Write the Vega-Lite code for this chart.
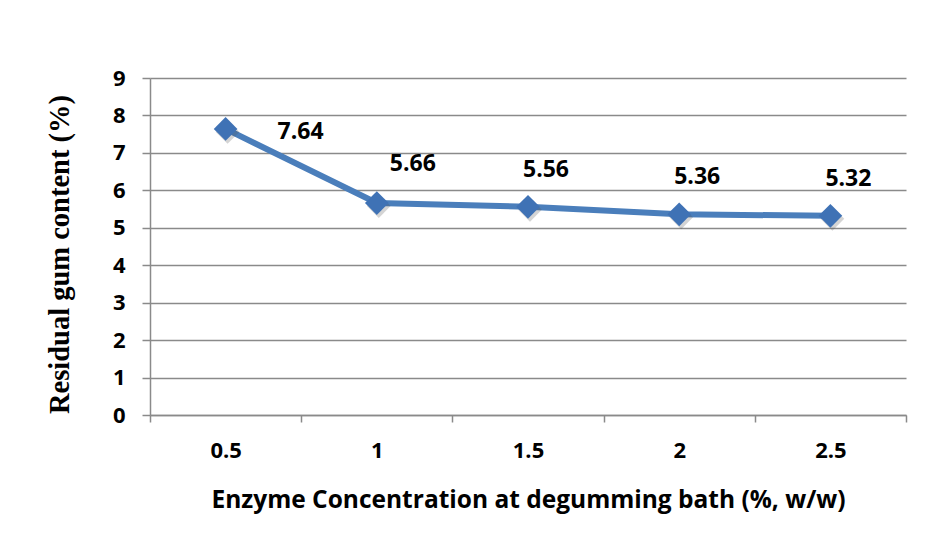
{
  "$schema": "https://vega.github.io/schema/vega-lite/v6.json",
  "width": 756,
  "height": 337,
  "autosize": {"type": "none"},
  "padding": {"left": 150, "top": 78, "right": 34, "bottom": 135},
  "background": "white",
  "config": {"view": {"stroke": null}, "font": "Open Sans"},
  "data": {"values": [
    {"c": "0.5", "r": 7.64},
    {"c": "1", "r": 5.66},
    {"c": "1.5", "r": 5.56},
    {"c": "2", "r": 5.36},
    {"c": "2.5", "r": 5.32}
  ]},
  "encoding": {
    "x": {
      "field": "c", "type": "ordinal", "sort": null,
      "scale": {"type": "band", "paddingInner": 0, "paddingOuter": 0},
      "axis": {
        "tickBand": "extent", "tickSize": 7, "tickColor": "#8a8a8a", "tickWidth": 1.5,
        "domainColor": "#8a8a8a", "domainWidth": 1.5,
        "labelAngle": 0, "labelPadding": 18, "labelFontSize": 22, "labelFontWeight": "bold", "labelColor": "black",
        "grid": false,
        "title": "Enzyme Concentration at degumming bath (%, w/w)",
        "titleFontSize": 24.5, "titleFontWeight": "bold", "titleColor": "black", "titlePadding": 27
      }
    },
    "y": {
      "field": "r", "type": "quantitative",
      "scale": {"domain": [0, 9], "nice": false},
      "axis": {
        "values": [0, 1, 2, 3, 4, 5, 6, 7, 8, 9],
        "grid": true, "gridColor": "#8a8a8a", "gridWidth": 1.5,
        "domainColor": "#8a8a8a", "domainWidth": 1.5,
        "tickSize": 8, "tickColor": "#8a8a8a", "tickWidth": 1.5,
        "labelPadding": 17, "labelFontSize": 22, "labelFontWeight": "bold", "labelColor": "black",
        "title": "Residual gum content (%)",
        "titleFont": "Liberation Serif", "titleFontSize": 28.5, "titleFontWeight": "bold", "titleColor": "black",
        "titlePadding": 38, "titleY": 176
      }
    }
  },
  "layer": [
    {"mark": {"type": "line", "color": "#4a7ebb", "strokeWidth": 6}},
    {"mark": {"type": "point", "shape": "diamond", "filled": true, "size": 560, "color": "#555555", "opacity": 0.25, "xOffset": 2, "yOffset": 3}},
    {"mark": {"type": "point", "shape": "diamond", "filled": true, "size": 560, "color": "#3f72b5", "opacity": 1}},
    {
      "transform": [{"filter": "datum.c == '0.5'"}],
      "mark": {"type": "text", "dx": 75, "dy": 3, "fontSize": 23, "fontWeight": "bold", "color": "black", "baseline": "middle"},
      "encoding": {"text": {"field": "r", "type": "quantitative", "format": ".2f"}}
    },
    {
      "transform": [{"filter": "datum.c == '1'"}],
      "mark": {"type": "text", "dx": 36, "dy": -39, "fontSize": 23, "fontWeight": "bold", "color": "black", "baseline": "middle"},
      "encoding": {"text": {"field": "r", "type": "quantitative", "format": ".2f"}}
    },
    {
      "transform": [{"filter": "datum.c != '0.5' && datum.c != '1'"}],
      "mark": {"type": "text", "dx": 18, "dy": -37, "fontSize": 23, "fontWeight": "bold", "color": "black", "baseline": "middle"},
      "encoding": {"text": {"field": "r", "type": "quantitative", "format": ".2f"}}
    }
  ]
}
